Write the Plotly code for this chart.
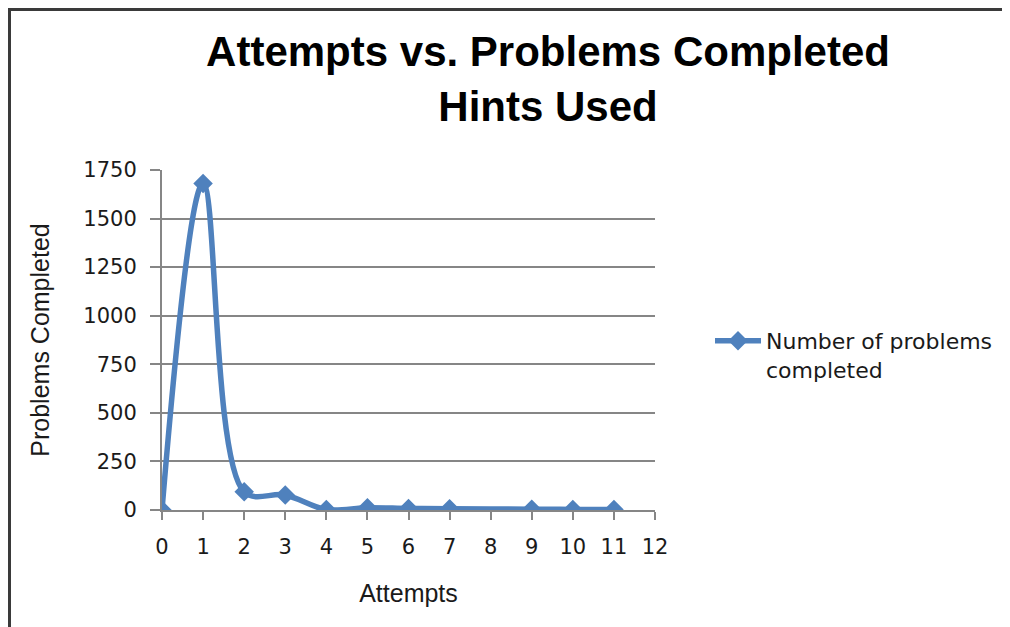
import plotly.graph_objects as go

attempts = [0, 1, 2, 3, 4, 5, 6, 7, 9, 10, 11]
problems_completed = [0, 1680, 94, 77, 2, 12, 8, 7, 4, 3, 2]
series_name = "Number of problems<br>completed"
title_text = "Attempts vs. Problems Completed<br>Hints Used"
x_title = "Attempts"
y_title = "Problems Completed"
y_ticks = [0, 250, 500, 750, 1000, 1250, 1500, 1750]
x_ticks = list(range(0, 13))

# page is offset by 8px body margin; figure fills the rest of the window
W, H = 1002, 619
L, R, T, B = 154, 355, 162, 117
pw, ph = W - L - R, H - T - B

def px_to_paper_x(px):
    return (px - L) / pw

def px_to_paper_y(py):
    return (H - B - py) / ph

fig = go.Figure()
fig.add_trace(go.Scatter(
    x=attempts, y=problems_completed, name=series_name,
    mode="lines+markers",
    line=dict(color="#4F81BD", width=5.5, shape="spline", smoothing=1.0),
    marker=dict(symbol="diamond", size=15, color="#4F81BD"),
    showlegend=True,
))

axis_font = dict(family="DejaVu Sans", size=21, color="#1a1a1a")
border = dict(color="#3a3a3a", width=3)
fig.update_layout(
    width=W, height=H,
    margin=dict(l=L, r=R, t=T, b=B, pad=0),
    paper_bgcolor="white", plot_bgcolor="white",
    title=dict(text=title_text, xref="container", yref="container",
               x=540 / W, xanchor="center", y=1 - 58 / H, yanchor="middle",
               font=dict(family="Liberation Sans", size=42, color="black", weight="bold")),
    xaxis=dict(range=[0, 12], tickmode="array", tickvals=x_ticks,
               ticktext=[str(v) for v in x_ticks],
               showgrid=False, zeroline=False,
               showline=True, linecolor="#868686", linewidth=2,
               ticks="outside", ticklen=8, tickwidth=2, tickcolor="#868686",
               ticklabelstandoff=9,
               tickfont=axis_font,
               title=dict(text=x_title, font=dict(family="Liberation Sans", size=25, color="#1a1a1a"), standoff=26)),
    yaxis=dict(range=[0, 1750], tickmode="array", tickvals=y_ticks,
               showgrid=True, gridcolor="#868686", gridwidth=2,
               zeroline=False,
               showline=True, linecolor="#868686", linewidth=2,
               ticks="outside", ticklen=10, tickwidth=2, tickcolor="#868686",
               ticklabelstandoff=9,
               tickfont=axis_font,
               title=dict(text=y_title, font=dict(family="Liberation Sans", size=25, color="#1a1a1a"), standoff=27)),
    legend=dict(x=px_to_paper_x(702), y=px_to_paper_y(312), xanchor="left", yanchor="top",
                font=dict(family="DejaVu Sans", size=22, color="#1a1a1a"),
                bgcolor="rgba(0,0,0,0)", itemwidth=46, valign="top", tracegroupgap=0),
    shapes=[
        dict(type="line", xref="paper", yref="paper",
             x0=px_to_paper_x(1.5), x1=px_to_paper_x(1.5),
             y0=px_to_paper_y(H), y1=px_to_paper_y(0), line=border, layer="below"),
        dict(type="line", xref="paper", yref="paper",
             x0=px_to_paper_x(0), x1=px_to_paper_x(W),
             y0=px_to_paper_y(1.5), y1=px_to_paper_y(1.5), line=border, layer="below"),
    ],
)

fig.write_html("out.html")
